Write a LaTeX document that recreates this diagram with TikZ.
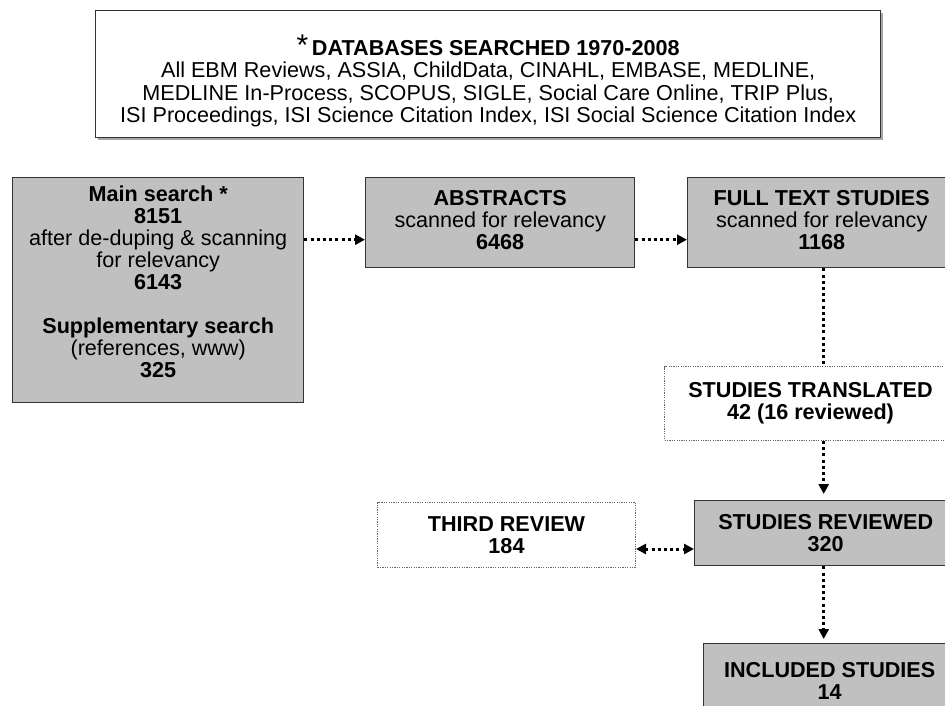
\documentclass[tikz,border=0pt]{standalone}
\usepackage{fontspec}
\setmainfont{Liberation Sans}
\usetikzlibrary{arrows.meta}
\definecolor{boxgray}{RGB}{192,192,192}
\begin{document}
\fontsize{10.8}{11}\selectfont
\begin{tikzpicture}[x=0.5pt,y=-0.5pt,
  box/.style={draw=black!80, line width=0.7pt, fill=boxgray, anchor=north west, inner sep=0pt, align=center},
  dotbox/.style={draw=black!60, line width=0.5pt, dash pattern=on 0.6pt off 0.6pt, fill=white, anchor=north west, inner sep=0pt, align=center},
  flow/.style={line width=1.5pt, dash pattern=on 1.5pt off 1.6pt, -{Triangle[length=5pt,width=5pt]}},
  flow2/.style={line width=1.5pt, dash pattern=on 1.5pt off 1.6pt, {Triangle[length=5pt,width=5pt]}-{Triangle[length=5pt,width=5pt]}},
  plain/.style={line width=1.5pt, dash pattern=on 1.5pt off 1.6pt}]
\clip (0,0) rectangle (945,705);
\fill[white] (0,0) rectangle (945,705);
% databases
\fill[black!35] (98,13) rectangle (883,140);
\node[draw=black!80, line width=0.7pt, fill=white, anchor=north west, inner sep=0pt, align=center,
  minimum width=392.5pt, minimum height=63.5pt, font=\fontsize{10.8}{11.2}\selectfont] (db) at (95,10)
  {\rule{0pt}{17pt}{\fontsize{15}{11}\selectfont *}\,\textbf{DATABASES SEARCHED 1970-2008}\\
   All EBM Reviews, ASSIA, ChildData, CINAHL, EMBASE, MEDLINE,\\
   MEDLINE In-Process, SCOPUS, SIGLE, Social Care Online, TRIP Plus,\\
   ISI Proceedings, ISI Science Citation Index, ISI Social Science Citation Index};
% boxes
\node[box, minimum width=145.5pt, minimum height=112.5pt] (main) at (12,177)
  {\textbf{Main search *}\\ \textbf{8151}\\ after de-duping \& scanning\\ for relevancy\\ \textbf{6143}\\[11pt]
   \textbf{Supplementary search}\\ (references, www)\\ \textbf{325}\\[-2pt]};
\node[box, minimum width=134.5pt, minimum height=45pt] (abs) at (365,177)
  {\textbf{ABSTRACTS}\\ scanned for relevancy\\ \textbf{6468}\\[-8pt]};
\node[box, minimum width=134pt, minimum height=45pt] (full) at (687,177)
  {\textbf{FULL TEXT STUDIES}\\ scanned for relevancy\\ \textbf{1168}\\[-8pt]};
\node[dotbox, minimum width=146pt, minimum height=37pt] (trans) at (664,366)
  {\textbf{STUDIES TRANSLATED}\\ \textbf{42 (16 reviewed)}};
\node[dotbox, minimum width=129pt, minimum height=32.5pt] (third) at (377,502)
  {\textbf{THIRD REVIEW}\\ \textbf{184}};
\node[box, minimum width=131pt, minimum height=32.5pt] (rev) at (694,500)
  {\textbf{STUDIES REVIEWED}\\ \textbf{320}};
\node[box, minimum width=126pt, minimum height=37pt] (incl) at (703,643)
  {\textbf{INCLUDED STUDIES}\\ \textbf{14}};
% arrows
\draw[flow] ([yshift=-8.5pt]abs.west -| main.east) -- ([yshift=-8.5pt]abs.west);
\draw[flow] ([yshift=-8.5pt]full.west -| abs.east) -- ([yshift=-8.5pt]full.west);
\draw[plain] ([xshift=1pt]full.south) -- ([xshift=1pt]full.south |- trans.north);
\draw[flow, shorten >=3pt] ([xshift=1pt]full.south |- trans.south) -- ([xshift=1pt]full.south |- rev.north);
\draw[flow2] ([yshift=-7pt]third.east) -- ([yshift=-7pt]third.east -| rev.west);
\draw[flow, shorten >=2pt] ([xshift=1pt]full.south |- rev.south) -- ([xshift=1pt]full.south |- incl.north);
\end{tikzpicture}
\end{document}
